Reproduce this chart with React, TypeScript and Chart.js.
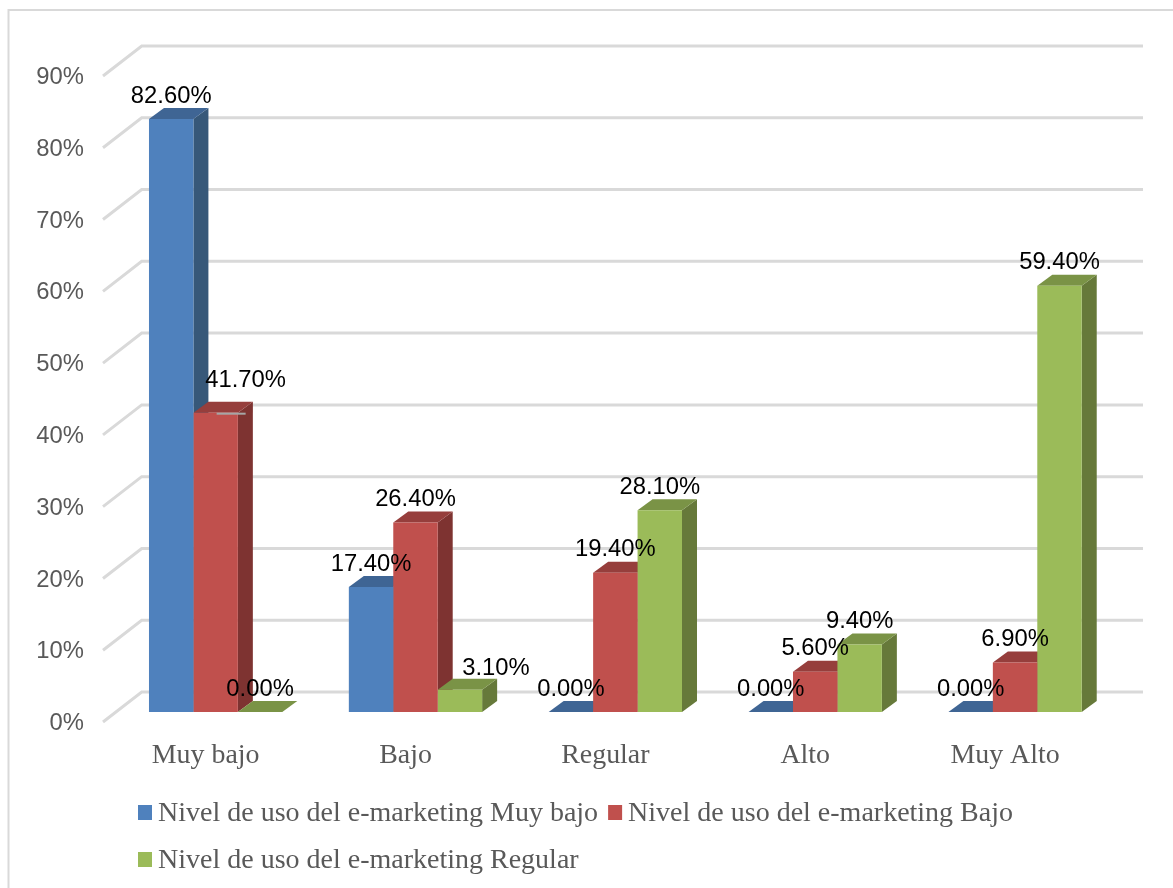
import React, { useEffect, useRef } from "react";
import { Chart, registerables } from "chart.js";

Chart.register(...registerables);

const categories = ["Muy bajo", "Bajo", "Regular", "Alto", "Muy Alto"];
const seriesNames = [
  "Nivel de uso del e-marketing Muy bajo",
  "Nivel de uso del e-marketing Bajo",
  "Nivel de uso del e-marketing Regular",
];
const muyBajo = [82.6, 17.4, 0, 0, 0];
const bajo = [41.7, 26.4, 19.4, 5.6, 6.9];
const regular = [0, 3.1, 28.1, 9.4, 59.4];
const yTicks = [0, 10, 20, 30, 40, 50, 60, 70, 80, 90];

const fronts = ["#4F81BD", "#C0504D", "#9BBB59"];
const tops = ["#3F6594", "#963E3C", "#7A9346"];
const sides = ["#375879", "#7E3331", "#66793A"];

const GRAY = "#595959";
const GRID = "#D9D9D9";
const SERIF = '"Liberation Serif", serif';
const SANS = '"Liberation Sans", sans-serif';
const DEPTH_X = 15;
const DEPTH_Y = 11;

const poly = (ctx: CanvasRenderingContext2D, pts: number[][], fill: string) => {
  ctx.fillStyle = fill;
  ctx.beginPath();
  pts.forEach(([x, y], i) => (i ? ctx.lineTo(x, y) : ctx.moveTo(x, y)));
  ctx.closePath();
  ctx.fill();
};

const scene3d = {
  id: "scene3d",
  beforeDraw(chart: any) {
    const { ctx, chartArea, scales } = chart;
    ctx.save();
    // outer frame
    ctx.strokeStyle = GRID;
    ctx.lineWidth = 2;
    ctx.beginPath();
    ctx.moveTo(8.5, 888);
    ctx.lineTo(8.5, 10);
    ctx.lineTo(1173, 10);
    ctx.stroke();
    // back wall gridlines with the side-wall diagonal
    ctx.lineWidth = 3;
    for (const t of scales.y.ticks) {
      const p = scales.y.getPixelForValue(t.value);
      ctx.beginPath();
      ctx.moveTo(chartArea.left - 12.7, p + 10);
      ctx.lineTo(chartArea.left + 26, p - 20);
      ctx.lineTo(chartArea.right + 28, p - 20);
      ctx.stroke();
    }
    ctx.restore();
  },
  // sides and tops of all bars go underneath every front face
  beforeDatasetsDraw(chart: any) {
    const { ctx } = chart;
    ctx.save();
    chart.data.datasets.forEach((_: any, i: number) => {
      for (const bar of chart.getDatasetMeta(i).data as any[]) {
        const l = bar.x - bar.width / 2;
        const r = bar.x + bar.width / 2;
        const t = bar.y;
        const b = bar.base;
        poly(ctx, [[r, t], [r + DEPTH_X, t - DEPTH_Y], [r + DEPTH_X, b - DEPTH_Y], [r, b]], sides[i]);
        poly(ctx, [[l, t], [l + DEPTH_X, t - DEPTH_Y], [r + DEPTH_X, t - DEPTH_Y], [r, t]], tops[i]);
      }
    });
    ctx.restore();
  },
  afterDatasetsDraw(chart: any) {
    const { ctx } = chart;
    ctx.save();
    // value labels; two of them were dragged aside in the original
    ctx.font = `23.8px ${SANS}`;
    ctx.fillStyle = "#000000";
    ctx.textAlign = "center";
    ctx.textBaseline = "middle";
    chart.data.datasets.forEach((ds: any, i: number) => {
      chart.getDatasetMeta(i).data.forEach((bar: any, j: number) => {
        let dx = 0;
        let dy = -23;
        if (i === 1 && j === 0) {
          dx = 30;
          dy = -32;
          ctx.save();
          ctx.strokeStyle = "#A6A6A6";
          ctx.lineWidth = 2;
          ctx.beginPath();
          ctx.moveTo(bar.x + 1, bar.y + 1);
          ctx.lineTo(bar.x + 30, bar.y + 1);
          ctx.stroke();
          ctx.restore();
        }
        if (i === 2 && j === 1) {
          dx = 36;
          dy = -21;
        }
        ctx.fillText(ds.data[j].toFixed(2) + "%", bar.x + dx, bar.y + dy);
      });
    });
    // legend
    ctx.font = `28px ${SERIF}`;
    ctx.textAlign = "left";
    let x = 138;
    let y = 813;
    chart.data.datasets.forEach((ds: any, i: number) => {
      const w = ctx.measureText(ds.label).width;
      if (x + 20 + w > 1173) {
        x = 138;
        y += 47;
      }
      ctx.fillStyle = fronts[i];
      ctx.fillRect(x, y - 8, 14, 15);
      ctx.fillStyle = GRAY;
      ctx.fillText(ds.label, x + 20, y + 1);
      x += 20 + w + 10;
    });
    ctx.restore();
  },
};

export default function App() {
  const ref = useRef<HTMLCanvasElement>(null);
  useEffect(() => {
    const chart = new Chart(ref.current!, {
      type: "bar",
      data: {
        labels: categories,
        datasets: [
          { label: seriesNames[0], data: muyBajo, backgroundColor: fronts[0] },
          { label: seriesNames[1], data: bajo, backgroundColor: fronts[1] },
          { label: seriesNames[2], data: regular, backgroundColor: fronts[2] },
        ],
      },
      options: {
        animation: false,
        responsive: false,
        layout: { padding: { top: 66, right: 58, left: 0, bottom: 0 } },
        datasets: { bar: { barPercentage: 1, categoryPercentage: 0.667 } },
        plugins: { legend: { display: false }, tooltip: { enabled: false } },
        scales: {
          x: {
            grid: { display: false, drawTicks: false },
            border: { display: false },
            afterFit: (s: any) => {
              s.height = 176;
            },
            ticks: {
              color: GRAY,
              font: { family: SERIF, size: 27.9 },
              padding: 27,
              labelOffset: -10,
              maxRotation: 0,
              autoSkip: false,
            },
          },
          y: {
            min: 0,
            max: 90,
            grid: { display: false, drawTicks: false },
            border: { display: false },
            afterFit: (s: any) => {
              s.width = 115.7;
            },
            afterBuildTicks: (s: any) => {
              s.ticks = yTicks.map((value) => ({ value }));
            },
            ticks: {
              color: GRAY,
              font: { family: SANS, size: 23.8 },
              padding: 31.7,
              labelOffset: 11.5,
              callback: (v: any) => v + "%",
            },
          },
        },
      },
      plugins: [scene3d],
    } as any);
    return () => chart.destroy();
  }, []);
  return (
    <canvas
      ref={ref}
      width={1173}
      height={888}
      style={{ position: "fixed", left: 0, top: 0, width: 1173, height: 888, background: "#fff" }}
    />
  );
}
